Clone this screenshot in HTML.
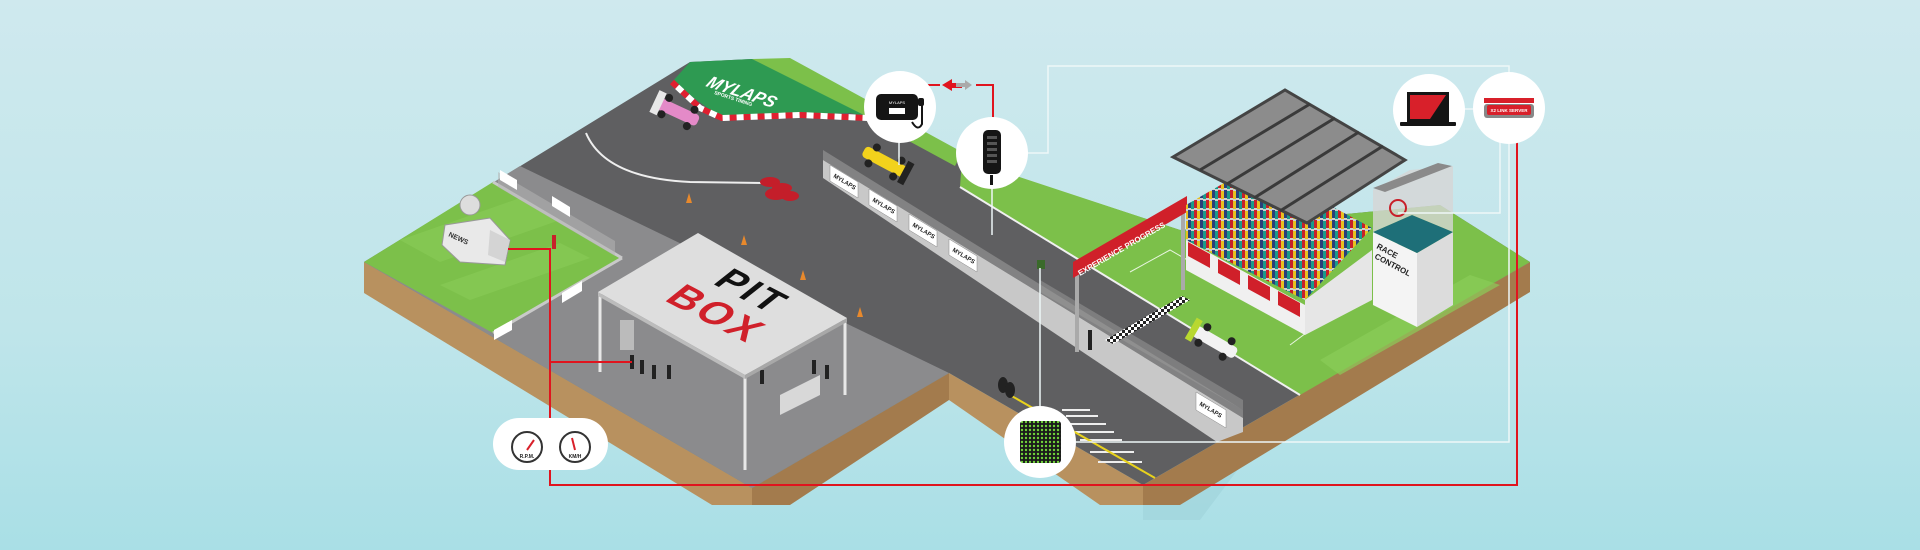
<!DOCTYPE html>
<html><head><meta charset="utf-8"><style>
html,body{margin:0;padding:0;width:1920px;height:550px;overflow:hidden}
svg{display:block}
text{font-family:"Liberation Sans",sans-serif}
</style></head><body>
<svg width="1920" height="550" viewBox="0 0 1920 550" xmlns="http://www.w3.org/2000/svg">
<defs>
<linearGradient id="bg" x1="0" y1="0" x2="0" y2="1">
<stop offset="0" stop-color="#cfe9ee"/><stop offset="0.6" stop-color="#bfe5ea"/><stop offset="1" stop-color="#a9dfe6"/>
</linearGradient>
<pattern id="crowd" width="12" height="10" patternUnits="userSpaceOnUse">
<rect width="12" height="10" fill="#cfcfcf"/>
<rect x="0" y="0" width="3" height="8" fill="#2a3f7a"/>
<rect x="3" y="1" width="3" height="8" fill="#1a9a8a"/>
<rect x="6" y="0" width="3" height="8" fill="#c8202a"/>
<rect x="9" y="1" width="3" height="8" fill="#e8c020"/>
</pattern>
<pattern id="dots" width="4" height="4" patternUnits="userSpaceOnUse">
<rect width="4" height="4" fill="#1a1a1a"/><circle cx="2" cy="2" r="1.2" fill="#6fd13a"/>
</pattern>
<pattern id="check" width="6" height="6" patternUnits="userSpaceOnUse">
<rect width="6" height="6" fill="#fff"/><rect width="3" height="3" fill="#222"/><rect x="3" y="3" width="3" height="3" fill="#222"/>
</pattern>
</defs>
<rect width="1920" height="550" fill="url(#bg)"/>

<!-- shadow -->
<polygon points="1143,505 1200,470 1260,440 1200,520 1143,520" fill="#9fd2da" opacity="0.6"/>

<!-- dirt faces -->
<polygon points="364,262 752,488 752,505 712,505 364,293" fill="#b8915f"/>
<polygon points="752,488 949,373 949,400 790,505 752,505" fill="#a37b4d"/>
<polygon points="949,373 1143,485 1143,505 1100,505 949,400" fill="#b8915f"/>
<polygon points="1143,485 1530,262 1530,292 1180,505 1143,505" fill="#a37b4d"/>

<!-- road surface (dark) -->
<polygon points="364,262 690,62 752,59 960,158 1180,230 1440,205 1530,262 1143,485 949,373 752,488" fill="#5f5f61"/>

<!-- paddock lighter -->
<polygon points="520,166 949,373 752,488 364,262" fill="#8b8b8d"/>
<!-- left grass -->
<polygon points="364,262 493,182 622,258 493,333" fill="#7cc04a"/>
<polygon points="400,240 520,198 560,220 440,262" fill="#88cb56" opacity="0.7"/>
<polygon points="440,285 560,243 590,258 470,300" fill="#88cb56" opacity="0.7"/>
<!-- fences left grass -->
<polyline points="493,182 622,258" fill="none" stroke="#c9c9c9" stroke-width="3"/>
<polyline points="493,333 622,258" fill="none" stroke="#c9c9c9" stroke-width="3"/>
<polygon points="498,172 615,241 615,256 498,187" fill="#b5b5b5" opacity="0.55"/>
<g font-size="6" font-weight="bold" fill="#222">
<polygon points="500,170 517,180 517,190 500,180" fill="#fff"/>
<polygon points="552,196 570,207 570,217 552,206" fill="#fff"/>
<polygon points="562,293 582,281 582,291 562,303" fill="#fff"/>
<polygon points="494,330 512,320 512,330 494,340" fill="#fff"/>
</g>

<!-- top green MYLAPS patch -->
<polygon points="752,59 790,58 962,152 955,166 870,120" fill="#7cc04a"/>
<polygon points="690,62 752,59 868,117 850,113 720,117 672,82" fill="#2e9a52"/>
<path d="M672,82 L700,108 L722,118 L800,115 L868,118" fill="none" stroke="#e02030" stroke-width="6" stroke-dasharray="7 7"/>
<path d="M672,82 L700,108 L722,118 L800,115 L868,118" fill="none" stroke="#fff" stroke-width="6" stroke-dasharray="7 7" stroke-dashoffset="7"/>
<text transform="translate(705,86) rotate(18) skewX(-15)" font-size="17" font-weight="bold" font-style="italic" fill="#fff">MYLAPS</text>
<text transform="translate(714,94) rotate(18)" font-size="5" font-weight="bold" fill="#fff">SPORTS TIMING</text>

<!-- right grass -->
<polygon points="962,158 1180,230 1440,205 1530,262 1300,395 960,187" fill="#7cc04a"/>
<polygon points="1320,360 1470,275 1500,285 1340,375" fill="#8acd58" opacity="0.7"/>
<line x1="960" y1="187" x2="1300" y2="395" stroke="#f0f0f0" stroke-width="2"/>
<polyline points="1130,272 1170,250 1310,330 1290,345" fill="none" stroke="#e8f5e0" stroke-width="1"/>

<!-- road curve line -->
<path d="M586,133 Q605,178 690,182 L767,183" fill="none" stroke="#eee" stroke-width="2"/>

<!-- pit wall -->
<polygon points="823,160 1243,418 1243,432 1217,442 823,178" fill="#c8c8c8"/>
<polygon points="823,150 1243,410 1243,418 823,160" fill="#9a9a9a" opacity="0.6"/>
<g fill="#fff" stroke="#888" stroke-width="0.5">
<polygon points="830,165 858,182 858,198 830,181"/>
<polygon points="869,189 897,206 897,222 869,205"/>
<polygon points="909,214 937,231 937,247 909,230"/>
<polygon points="949,239 977,256 977,272 949,255"/>
<polygon points="1196,392 1226,410 1226,428 1196,410"/>
</g>
<g font-size="6" font-weight="bold" fill="#222">
<text transform="translate(833,177) rotate(31)">MYLAPS</text>
<text transform="translate(872,201) rotate(31)">MYLAPS</text>
<text transform="translate(912,226) rotate(31)">MYLAPS</text>
<text transform="translate(952,251) rotate(31)">MYLAPS</text>
<text transform="translate(1199,405) rotate(31)">MYLAPS</text>
</g>
<!-- fence track side -->
<polygon points="1040,280 1243,400 1243,410 1040,292" fill="#9b9b9b" opacity="0.5"/>

<!-- tyre stack -->
<g fill="#c41e2a"><ellipse cx="770" cy="182" rx="10" ry="5"/><ellipse cx="782" cy="188" rx="10" ry="5"/><ellipse cx="776" cy="194" rx="11" ry="6"/><ellipse cx="790" cy="196" rx="9" ry="5"/></g>
<!-- cones -->
<g fill="#e8892c"><polygon points="689,193 692,203 686,203"/><polygon points="744,235 747,245 741,245"/><polygon points="803,270 806,280 800,280"/><polygon points="860,307 863,317 857,317"/></g>

<!-- cars -->
<g transform="translate(678,112) rotate(25)"><rect x="-22" y="-6" width="44" height="12" rx="4" fill="#e48ac8"/><rect x="-26" y="-12" width="8" height="24" fill="#e8e8e8"/><circle cx="-14" cy="-9" r="4" fill="#222"/><circle cx="-14" cy="9" r="4" fill="#222"/><circle cx="14" cy="-9" r="4" fill="#222"/><circle cx="14" cy="9" r="4" fill="#222"/></g>
<g transform="translate(885,162) rotate(28)"><rect x="-24" y="-6" width="48" height="12" rx="4" fill="#f2d21c"/><rect x="20" y="-12" width="7" height="24" fill="#222"/><circle cx="-14" cy="-9" r="4" fill="#222"/><circle cx="-14" cy="9" r="4" fill="#222"/><circle cx="14" cy="-9" r="4" fill="#222"/><circle cx="14" cy="9" r="4" fill="#222"/></g>
<g transform="translate(1215,342) rotate(30)"><rect x="-24" y="-6" width="48" height="12" rx="4" fill="#f2f2f2"/><rect x="-28" y="-12" width="7" height="24" fill="#b8d830"/><circle cx="-14" cy="-9" r="4" fill="#222"/><circle cx="-14" cy="9" r="4" fill="#222"/><circle cx="14" cy="-9" r="4" fill="#222"/><circle cx="14" cy="9" r="4" fill="#222"/></g>

<!-- news van -->
<polygon points="445,225 490,218 510,240 505,265 460,262 442,245" fill="#e9e9e9" stroke="#999" stroke-width="1"/>
<polygon points="490,230 510,240 505,262 488,255" fill="#d4d4d4"/>
<circle cx="470" cy="205" r="10" fill="#ddd" stroke="#999"/>
<text transform="translate(448,236) rotate(25)" font-size="7" font-weight="bold" fill="#333">NEWS</text>
<rect x="552" y="235" width="4" height="14" fill="#c8202a"/>

<!-- pit box people / equipment -->
<g fill="#222"><rect x="630" y="355" width="4" height="14"/><rect x="640" y="360" width="4" height="14"/><rect x="652" y="365" width="4" height="14"/><rect x="667" y="365" width="4" height="14"/><rect x="812" y="360" width="4" height="14"/><rect x="825" y="365" width="4" height="14"/><rect x="760" y="370" width="4" height="14"/></g>
<rect x="620" y="320" width="14" height="30" fill="#bbb"/>
<polygon points="780,395 820,375 820,395 780,415" fill="#d8d8d8"/>
<!-- pit box canopy legs -->
<g stroke="#e8e8e8" stroke-width="3"><line x1="600" y1="292" x2="600" y2="372"/><line x1="745" y1="375" x2="745" y2="470"/><line x1="845" y1="318" x2="845" y2="395"/></g>
<polygon points="598,292 698,233 847,318 745,375" fill="#dedede"/>
<polygon points="598,292 745,375 745,379 598,296" fill="#bcbcbc"/>
<polygon points="745,375 847,318 847,322 745,379" fill="#a8a8a8"/>
<text transform="matrix(0.89,0.46,-0.78,0.62,742,299)" text-anchor="middle" font-size="38" font-weight="bold" fill="#111" letter-spacing="3">PIT</text>
<text transform="matrix(0.89,0.46,-0.78,0.62,706,322)" text-anchor="middle" font-size="40" font-weight="bold" fill="#d0202a" letter-spacing="3">BOX</text>

<!-- gantry -->
<g stroke="#aaa" stroke-width="4"><line x1="1077" y1="272" x2="1077" y2="352"/><line x1="1183" y1="210" x2="1183" y2="290"/></g>
<polygon points="1073,262 1187,196 1187,212 1073,278" fill="#d0202a"/>
<text transform="translate(1080,276) rotate(-30)" font-size="8" font-weight="bold" fill="#fff">EXPERIENCE PROGRESS</text>
<polygon points="1105,340 1182,296 1190,300 1113,344" fill="url(#check)"/>
<rect x="1088" y="330" width="4" height="20" fill="#222"/>

<!-- grandstand -->
<polygon points="1186,205 1255,165 1372,228 1305,300 1186,240" fill="url(#crowd)"/>
<polygon points="1186,240 1305,305 1305,335 1186,270" fill="#f0f0f0"/>
<g fill="#d0202a"><polygon points="1188,242 1210,254 1210,268 1188,256"/><polygon points="1218,259 1240,271 1240,285 1218,273"/><polygon points="1248,275 1270,287 1270,301 1248,289"/><polygon points="1278,291 1300,303 1300,317 1278,305"/></g>
<polygon points="1305,300 1372,250 1372,300 1305,335" fill="#e6e6e6"/>
<!-- roof -->
<polygon points="1173,157 1285,90 1405,160 1307,223" fill="#8c8c8c" stroke="#444" stroke-width="3"/>
<g stroke="#3a3a3a" stroke-width="3"><line x1="1200" y1="170" x2="1310" y2="104"/><line x1="1227" y1="184" x2="1335" y2="118"/><line x1="1254" y1="198" x2="1359" y2="132"/><line x1="1280" y1="211" x2="1383" y2="146"/></g>
<!-- race control -->
<polygon points="1373,232 1417,253 1417,327 1373,305" fill="#f4f4f4"/>
<polygon points="1417,253 1453,232 1453,305 1417,327" fill="#dcdcdc"/>
<polygon points="1373,232 1412,215 1453,232 1417,253" fill="#1e6f78"/>
<polygon points="1373,190 1410,170 1453,166 1453,232 1412,215 1373,232" fill="#d6d6d6" opacity="0.8"/>
<polygon points="1373,188 1438,163 1452,166 1385,192" fill="#8a8a8a"/>
<circle cx="1398" cy="208" r="8" fill="none" stroke="#c8202a" stroke-width="2"/>
<text transform="translate(1376,248) rotate(28)" font-size="8" font-weight="bold" fill="#222">RACE</text>
<text transform="translate(1374,258) rotate(28)" font-size="8" font-weight="bold" fill="#222">CONTROL</text>

<!-- pit exit stripes -->
<g stroke="#eee" stroke-width="2"><line x1="1062" y1="410" x2="1090" y2="410"/><line x1="1066" y1="416" x2="1098" y2="416"/><line x1="1070" y1="424" x2="1106" y2="424"/><line x1="1075" y1="432" x2="1114" y2="432"/><line x1="1080" y1="440" x2="1122" y2="440"/><line x1="1090" y1="452" x2="1134" y2="452"/><line x1="1098" y1="462" x2="1142" y2="462"/></g>
<line x1="1010" y1="395" x2="1155" y2="478" stroke="#e8d21c" stroke-width="2"/>
<g fill="#222"><ellipse cx="1003" cy="385" rx="5" ry="8"/><ellipse cx="1010" cy="390" rx="5" ry="8"/></g>
<rect x="1037" y="260" width="8" height="9" fill="#3a6a2a"/>

<!-- connector lines light -->
<g fill="none" stroke="#eef7f8" stroke-width="1.5">
<polyline points="1027,153 1048,153 1048,66 1509,66 1509,72"/>
<polyline points="1509,144 1509,442 1076,442"/>
<line x1="1040" y1="406" x2="1040" y2="268"/>
<line x1="899" y1="142" x2="899" y2="165"/>
<line x1="992" y1="188" x2="992" y2="235"/>
<polyline points="1398,213 1500,213 1500,140"/>
<line x1="1464" y1="109" x2="1474" y2="109"/>
</g>
<!-- red connectors -->
<g fill="none" stroke="#e0141e" stroke-width="2">
<polyline points="508,249 550,249 550,418"/>
<polyline points="632,362 550,362"/>
<polyline points="550,470 550,485 1517,485 1517,140"/>
<polyline points="916,85 940,85"/>
<polyline points="976,85 993,85 993,118"/>
</g>
<polygon points="942,85 952,79 952,83 962,83 962,88 952,88 952,91" fill="#e0141e"/>
<polygon points="972,85 965,80 965,83 956,83 956,87 965,87 965,90" fill="#aaa"/>

<!-- callout circles -->
<circle cx="900" cy="107" r="36" fill="#fff"/>
<rect x="876" y="94" width="42" height="26" rx="5" fill="#151515"/>
<rect x="889" y="108" width="16" height="6" fill="#fff"/>
<text x="897" y="104" text-anchor="middle" font-size="4" fill="#fff">MYLAPS</text>
<path d="M912,122 Q918,132 922,124 L922,104" fill="none" stroke="#151515" stroke-width="2"/>
<rect x="918" y="98" width="6" height="8" rx="2" fill="#151515"/>

<circle cx="992" cy="153" r="36" fill="#fff"/>
<rect x="983" y="130" width="18" height="44" rx="5" fill="#151515"/>
<g fill="#555"><rect x="987" y="136" width="10" height="3"/><rect x="987" y="142" width="10" height="3"/><rect x="987" y="148" width="10" height="3"/><rect x="987" y="154" width="10" height="3"/><rect x="987" y="160" width="10" height="3"/></g>
<rect x="990" y="175" width="3" height="10" fill="#151515"/>

<circle cx="1429" cy="110" r="36" fill="#fff"/>
<rect x="1407" y="92" width="42" height="30" fill="#151515"/>
<polygon points="1410,95 1446,95 1430,119 1410,119" fill="#d8202a"/>
<rect x="1400" y="122" width="56" height="4" rx="1" fill="#151515"/>

<circle cx="1509" cy="108" r="36" fill="#fff"/>
<rect x="1484" y="98" width="50" height="5" fill="#d8202a"/>
<rect x="1484" y="104" width="50" height="14" rx="3" fill="#888"/>
<rect x="1487" y="105" width="44" height="10" rx="2" fill="#d8202a"/>
<text x="1509" y="112" text-anchor="middle" font-size="4.5" font-weight="bold" fill="#fff">X2 LINK SERVER</text>

<circle cx="1040" cy="442" r="36" fill="#fff"/>
<rect x="1020" y="421" width="41" height="42" rx="3" fill="url(#dots)"/>

<!-- gauges pill -->
<rect x="493" y="418" width="115" height="52" rx="26" fill="#fff"/>
<circle cx="527" cy="447" r="15" fill="#fff" stroke="#333" stroke-width="2"/>
<circle cx="575" cy="447" r="15" fill="#fff" stroke="#333" stroke-width="2"/>
<line x1="527" y1="450" x2="534" y2="440" stroke="#d8202a" stroke-width="2"/>
<line x1="575" y1="450" x2="572" y2="438" stroke="#d8202a" stroke-width="2"/>
<text x="527" y="458" text-anchor="middle" font-size="5" font-weight="bold" fill="#222">R.P.M.</text>
<text x="575" y="458" text-anchor="middle" font-size="5" font-weight="bold" fill="#222">KM/H</text>
</svg>
</body></html>
